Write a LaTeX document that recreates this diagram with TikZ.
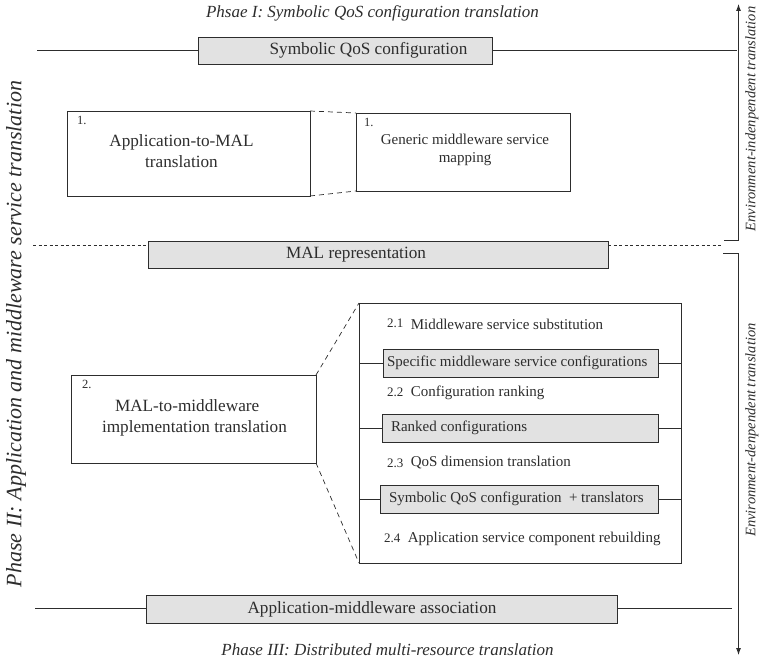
\documentclass[tikz,border=0pt]{standalone}
\usepackage{fontspec}
\setmainfont{Liberation Serif}
\usetikzlibrary{arrows.meta}
\definecolor{boxgray}{RGB}{226,226,226}
\definecolor{ink}{RGB}{45,45,45}
\newcommand{\fs}[1]{\fontsize{#1}{#1}\selectfont\setlength{\baselineskip}{1.2\baselineskip}}
\begin{document}
\begin{tikzpicture}[x=1pt,y=-1pt,
  line width=0.8pt, draw=ink, text=ink,
  every node/.style={inner sep=0pt, outer sep=0pt},
  plainbox/.style={draw=ink, fill=white, rectangle},
  graybox/.style={draw=ink, fill=boxgray, rectangle},
  phase/.style={font=\fs{17}\itshape},
  side/.style={font=\fs{14.5}\itshape, rotate=90},
  label/.style={font=\fs{17.2}},
  small/.style={font=\fs{15}},
  num/.style={font=\fs{12.5}, anchor=north west},
  link/.style={draw=ink, line width=0.7pt, dash pattern=on 5pt off 4pt},
  dotline/.style={draw=ink, line width=0.7pt, dash pattern=on 3pt off 2.5pt}]
\useasboundingbox (0,0) rectangle (762,663);

% Phase I
\node[phase] (t1) at (372.5,13) {Phsae I: Symbolic QoS configuration translation};
\node[graybox, minimum width=294pt, minimum height=27pt] (sqos) at (345,50.5) {};
\node[label] (sqosT) at (368.5,50.5) {Symbolic QoS configuration};
\coordinate (sqL) at (37,50.5);
\coordinate (sqR) at (737,50.5);
\draw (sqL) -- (sqos.west);
\draw (sqos.east) -- (sqR);

% Step 1: application-to-MAL translation
\node[plainbox, minimum width=243pt, minimum height=85pt] (b1) at (188.5,153.5) {};
\node[label, align=center] (b1T) at (181.5,151) {Application-to-MAL\\translation};
\node[num] (b1N) at ([xshift=10pt,yshift=-5pt]b1.north west) {1.};

\node[plainbox, minimum width=214pt, minimum height=78pt] (b2) at (463,152) {};
\node[small, align=center] (b2T) at (465,150) {Generic middleware service\\mapping};
\node[num] (b2N) at ([xshift=8pt,yshift=-5pt]b2.north west) {1.};

\draw[link] (b1.north east) -- (b2.north west);
\draw[link] (b1.south east) -- (b2.south west);

% MAL representation
\node[graybox, minimum width=460pt, minimum height=27pt] (mal) at (378,254.5) {};
\node[label] (malT) at (356,254.5) {MAL representation};
\coordinate (mdL) at (33,245);
\coordinate (mdR) at (723,245);
\draw[dotline] (mdL) -- (mal.west |- mdL);
\draw[dotline] (mal.east |- mdR) -- (mdR);

% Step 2: MAL-to-middleware implementation translation
\node[plainbox, minimum width=245pt, minimum height=88pt] (b3) at (193.5,419) {};
\node[label, align=left, anchor=west] (b3T) at (102,418) {\hspace*{13pt}MAL-to-middleware\\implementation translation};
\node[num] (b3N) at ([xshift=11pt,yshift=-5pt]b3.north west) {2.};

\node[plainbox, minimum width=322pt, minimum height=260pt] (big) at (520,433) {};
\draw[link] (b3.north east) -- (big.north west);
\draw[link] (b3.south east) -- (big.south west);

\node[graybox, minimum width=275pt, minimum height=28pt] (g1) at (520.5,363) {};
\node[small, anchor=west] (g1T) at (387,363) {Specific middleware service configurations};
\node[graybox, minimum width=276pt, minimum height=28pt] (g2) at (520,428) {};
\node[small, anchor=west] (g2T) at (391,428) {Ranked configurations};
\node[graybox, minimum width=278pt, minimum height=28pt] (g3) at (519,499) {};
\node[small, anchor=west] (g3T) at (389,499) {Symbolic QoS configuration\ \ + translators};
\foreach \g in {g1,g2,g3}{
  \draw (big.west |- \g) -- (\g.west);
  \draw (\g.east) -- (big.east |- \g);
}

\node[small, anchor=west] (s1) at (387,324) {\raisebox{1.5pt}{\fs{13}2.1}\ \ Middleware service substitution};
\node[small, anchor=west] (s2) at (387,393) {{\fs{13}2.2}\ \ Configuration ranking};
\node[small, anchor=west] (s3) at (387,463) {\raisebox{-1pt}{\fs{13}2.3}\ \ QoS dimension translation};
\node[small, anchor=west] (s4) at (384,539) {{\fs{13}2.4}\ \ Application service component rebuilding};

% Phase III
\node[graybox, minimum width=471pt, minimum height=28pt] (amw) at (381.5,609) {};
\node[label] (amwT) at (372,609) {Application-middleware association};
\coordinate (amL) at (35,608);
\coordinate (amR) at (732,608);
\draw (amL) -- (amw.west |- amL);
\draw (amw.east |- amR) -- (amR);
\node[phase] (t3) at (387.5,650) {Phase III: Distributed multi-resource translation};

% Phase II side label
\node[font=\fs{22}\itshape, rotate=90] (t2) at (16,334) {Phase II: Application and middleware service translation};

% Environment brackets
\coordinate (upB) at (724,240);
\coordinate (upC) at (738.5,240);
\coordinate (upT) at (738.5,4);
\draw[-{Latex[length=7pt,width=5pt]}] (upB) -- (upC) -- (upT);
\coordinate (dnB) at (723,253);
\coordinate (dnC) at (738.5,253);
\coordinate (dnT) at (738.5,655);
\draw[-{Latex[length=7pt,width=5pt]}] (dnB) -- (dnC) -- (dnT);
\node[side] (e1) at (752,119) {Environment-indenpendent translation};
\node[side] (e2) at (752,430) {Environment-denpendent translation};
\end{tikzpicture}
\end{document}
